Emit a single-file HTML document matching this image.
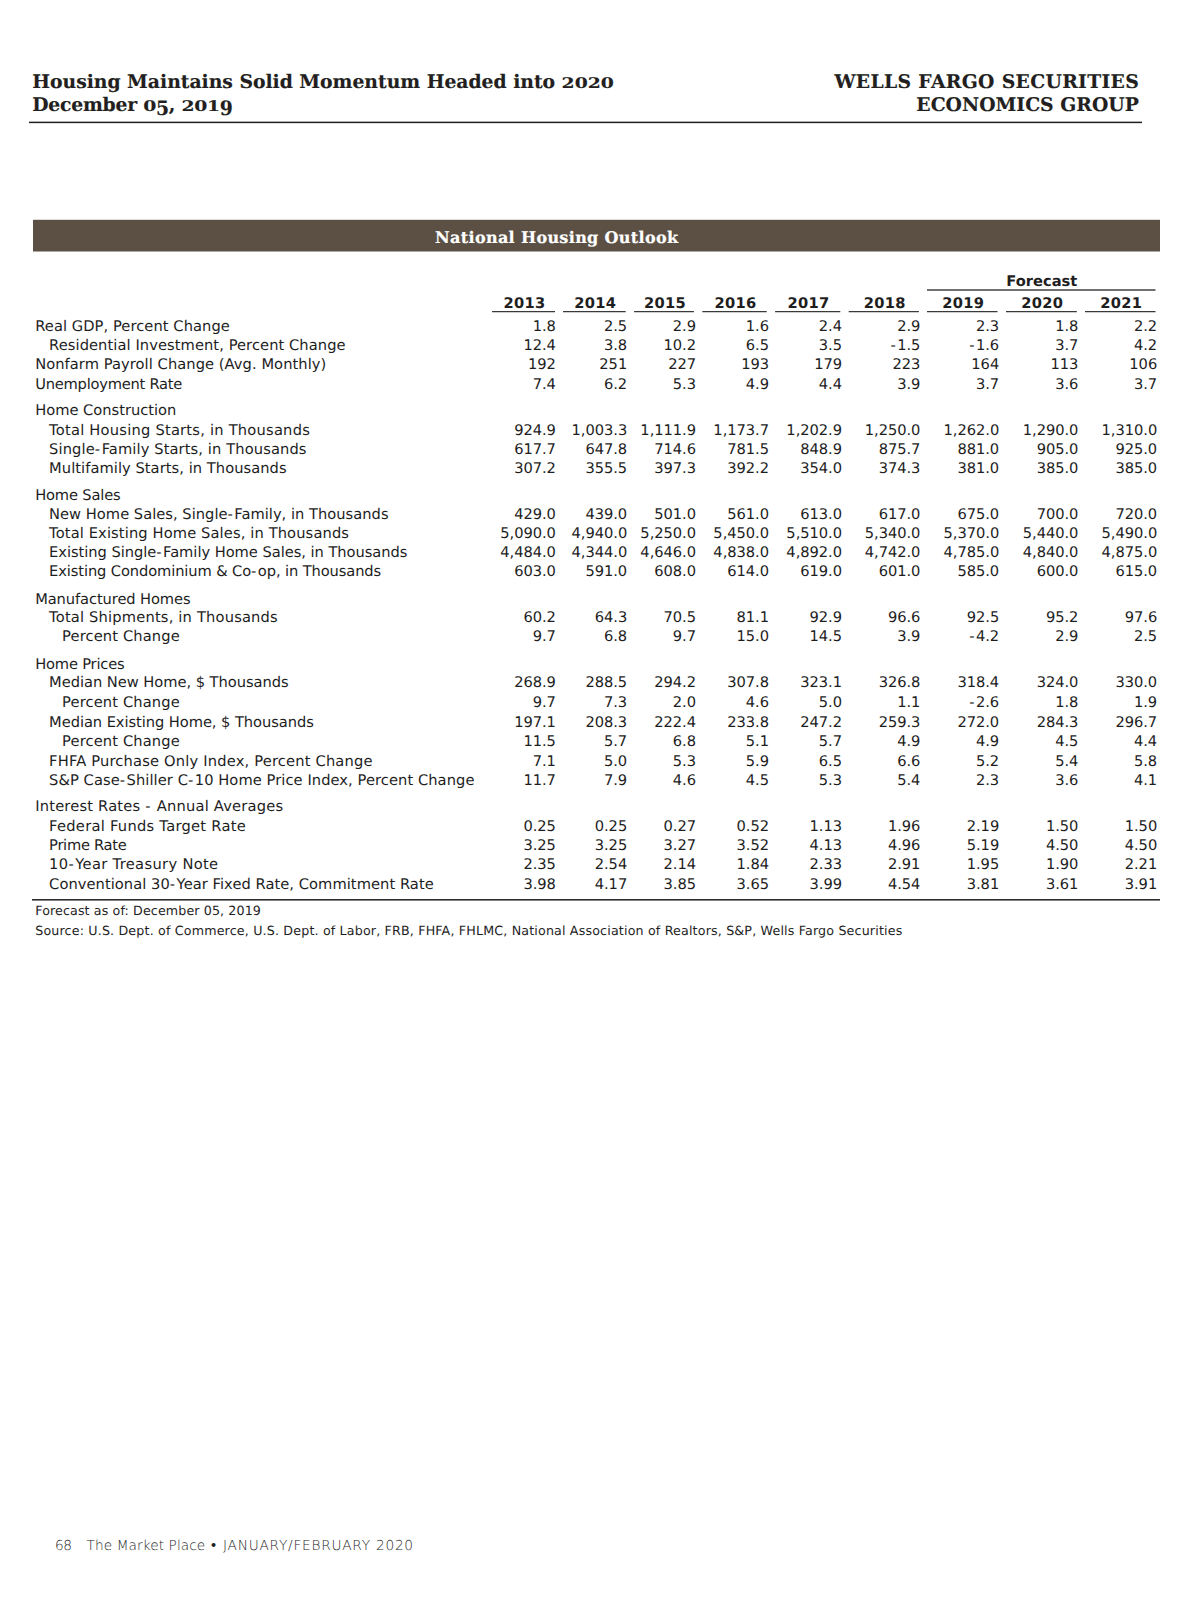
<!DOCTYPE html>
<html lang="en"><head><meta charset="utf-8"><title>National Housing Outlook</title>
<style>
html,body{margin:0;padding:0;background:#fff;}
body{text-rendering:geometricPrecision;width:1200px;height:1606px;position:relative;overflow:hidden;font-family:"DejaVu Sans","Liberation Sans",sans-serif;color:#1e1e1e;}
.abs{position:absolute;white-space:nowrap;}
.hd{position:absolute;white-space:nowrap;font-family:"DejaVu Serif","Liberation Serif",serif;font-weight:bold;font-size:18.8px;line-height:24px;height:24px;color:#231f20;-webkit-text-stroke:0.15px #231f20;}
.os,.osd{display:inline-block;line-height:24px;height:24px;vertical-align:baseline;transform-origin:0 18.71px;transform:scaleY(0.78);}
.osd{transform:translateY(4.2px) scaleY(1.06);}
.rule{position:absolute;background:#231f20;}
.banner{position:absolute;left:33px;top:219.8px;width:1127px;height:31.7px;}
.banner span{position:absolute;left:0;width:1047.5px;top:1.9px;-webkit-text-stroke:0.2px #fff;line-height:32px;text-align:center;color:#fff;font-family:"DejaVu Serif","Liberation Serif",serif;font-weight:bold;font-size:16.05px;white-space:nowrap;}
.r{position:absolute;left:0;width:1200px;height:20px;font-size:14.67px;line-height:20px;}
.r span{position:absolute;top:0;white-space:nowrap;}
.r .n{text-align:right;letter-spacing:-0.05px;}
.m{font-weight:normal;letter-spacing:1.5px;}
.yr{position:absolute;font-weight:bold;font-size:14.67px;line-height:20px;height:20px;text-align:center;letter-spacing:0.3px;padding-left:1.8px;box-sizing:border-box;white-space:nowrap;}
.ul{position:absolute;height:1.4px;background:#3a3a3a;}
.fn{position:absolute;left:35.2px;font-size:12.67px;line-height:16px;height:16px;white-space:nowrap;}
.ft{position:absolute;top:1536.26px;font-weight:200;font-size:13.7px;line-height:20px;height:20px;color:#262626;white-space:nowrap;}
</style></head><body>

<div class="hd" style="left:32.3px;transform-origin:0 0;top:70.29px;letter-spacing:-0.020px;">Housing Maintains Solid Momentum Headed into <span class="os">2020</span></div>
<div class="hd" style="left:32.3px;transform-origin:0 0;top:93.09px;letter-spacing:-0.244px;">December <span class="os">0</span><span class="osd">5</span>, <span class="os">201</span><span class="osd">9</span></div>
<div class="hd" style="right:60.87px;transform-origin:100% 0;top:70.29px;letter-spacing:0.326px;">WELLS FARGO SECURITIES</div>
<div class="hd" style="right:61.19px;transform-origin:100% 0;top:93.09px;letter-spacing:0.014px;">ECONOMICS GROUP</div>
<svg width="1200" height="1606" viewBox="0 0 1200 1606" style="position:absolute;left:0;top:0;"><rect x="29" y="121.65" width="1113" height="1.5" fill="#231f20"/><rect x="33" y="219.8" width="1127" height="31.7" fill="#5c5044"/><rect x="927" y="289.35" width="228.5" height="1.3" fill="#262626"/><rect x="492.0" y="311.0" width="63.0" height="1.25" fill="#3a3a3a"/><rect x="563.0" y="311.0" width="62.7" height="1.25" fill="#3a3a3a"/><rect x="634.1" y="311.0" width="59.8" height="1.25" fill="#3a3a3a"/><rect x="702.3" y="311.0" width="64.4" height="1.25" fill="#3a3a3a"/><rect x="775.1" y="311.0" width="65.2" height="1.25" fill="#3a3a3a"/><rect x="848.7" y="311.0" width="70.2" height="1.25" fill="#3a3a3a"/><rect x="927" y="311.0" width="70.5" height="1.25" fill="#3a3a3a"/><rect x="1006" y="311.0" width="70.8" height="1.25" fill="#3a3a3a"/><rect x="1085" y="311.0" width="70.5" height="1.25" fill="#3a3a3a"/><rect x="32" y="899.0" width="1128" height="1.6" fill="#2e2e2e"/></svg>
<div class="banner"><span style="letter-spacing:0.324px;">National Housing Outlook</span></div>
<div class="yr" style="left:927px;width:228.5px;top:271.72px;letter-spacing:0;padding-left:1.2px;">Forecast</div>
<div class="yr" style="left:492.0px;width:63.0px;top:293.62px;">2013</div>
<div class="yr" style="left:563.0px;width:62.7px;top:293.62px;">2014</div>
<div class="yr" style="left:634.1px;width:59.8px;top:293.62px;">2015</div>
<div class="yr" style="left:702.3px;width:64.4px;top:293.62px;">2016</div>
<div class="yr" style="left:775.1px;width:65.2px;top:293.62px;">2017</div>
<div class="yr" style="left:848.7px;width:70.2px;top:293.62px;">2018</div>
<div class="yr" style="left:927px;width:70.5px;top:293.62px;">2019</div>
<div class="yr" style="left:1006px;width:70.8px;top:293.62px;">2020</div>
<div class="yr" style="left:1085px;width:70.5px;top:293.62px;">2021</div>
<div class="r" style="top:316.52px;"><span style="left:35.2px;letter-spacing:0.073px;">Real GDP, Percent Change</span><span class="n" style="right:644.15px;">1.8</span><span class="n" style="right:572.85px;">2.5</span><span class="n" style="right:504.05px;">2.9</span><span class="n" style="right:431.05px;">1.6</span><span class="n" style="right:358.05px;">2.4</span><span class="n" style="right:279.65px;">2.9</span><span class="n" style="right:200.85px;">2.3</span><span class="n" style="right:121.65px;">1.8</span><span class="n" style="right:42.85px;">2.2</span></div>
<div class="r" style="top:335.82px;"><span style="left:49.1px;letter-spacing:0.076px;">Residential Investment, Percent Change</span><span class="n" style="right:644.15px;">12.4</span><span class="n" style="right:572.85px;">3.8</span><span class="n" style="right:504.05px;">10.2</span><span class="n" style="right:431.05px;">6.5</span><span class="n" style="right:358.05px;">3.5</span><span class="n" style="right:279.65px;"><b class="m">-</b>1.5</span><span class="n" style="right:200.85px;"><b class="m">-</b>1.6</span><span class="n" style="right:121.65px;">3.7</span><span class="n" style="right:42.85px;">4.2</span></div>
<div class="r" style="top:355.02px;"><span style="left:35.2px;letter-spacing:0.065px;">Nonfarm Payroll Change (Avg. Monthly)</span><span class="n" style="right:644.15px;">192</span><span class="n" style="right:572.85px;">251</span><span class="n" style="right:504.05px;">227</span><span class="n" style="right:431.05px;">193</span><span class="n" style="right:358.05px;">179</span><span class="n" style="right:279.65px;">223</span><span class="n" style="right:200.85px;">164</span><span class="n" style="right:121.65px;">113</span><span class="n" style="right:42.85px;">106</span></div>
<div class="r" style="top:374.52px;"><span style="left:35.2px;letter-spacing:-0.233px;">Unemployment Rate</span><span class="n" style="right:644.15px;">7.4</span><span class="n" style="right:572.85px;">6.2</span><span class="n" style="right:504.05px;">5.3</span><span class="n" style="right:431.05px;">4.9</span><span class="n" style="right:358.05px;">4.4</span><span class="n" style="right:279.65px;">3.9</span><span class="n" style="right:200.85px;">3.7</span><span class="n" style="right:121.65px;">3.6</span><span class="n" style="right:42.85px;">3.7</span></div>
<div class="r" style="top:400.92px;"><span style="left:35.2px;letter-spacing:-0.010px;">Home Construction</span></div>
<div class="r" style="top:420.72px;"><span style="left:49.1px;letter-spacing:0.226px;">Total Housing Starts, in Thousands</span><span class="n" style="right:644.15px;">924.9</span><span class="n" style="right:572.85px;">1,003.3</span><span class="n" style="right:504.05px;">1,111.9</span><span class="n" style="right:431.05px;">1,173.7</span><span class="n" style="right:358.05px;">1,202.9</span><span class="n" style="right:279.65px;">1,250.0</span><span class="n" style="right:200.85px;">1,262.0</span><span class="n" style="right:121.65px;">1,290.0</span><span class="n" style="right:42.85px;">1,310.0</span></div>
<div class="r" style="top:439.72px;"><span style="left:49.1px;letter-spacing:0.111px;">Single<b class="m">-</b>Family Starts, in Thousands</span><span class="n" style="right:644.15px;">617.7</span><span class="n" style="right:572.85px;">647.8</span><span class="n" style="right:504.05px;">714.6</span><span class="n" style="right:431.05px;">781.5</span><span class="n" style="right:358.05px;">848.9</span><span class="n" style="right:279.65px;">875.7</span><span class="n" style="right:200.85px;">881.0</span><span class="n" style="right:121.65px;">905.0</span><span class="n" style="right:42.85px;">925.0</span></div>
<div class="r" style="top:459.12px;"><span style="left:49.1px;letter-spacing:0.053px;">Multifamily Starts, in Thousands</span><span class="n" style="right:644.15px;">307.2</span><span class="n" style="right:572.85px;">355.5</span><span class="n" style="right:504.05px;">397.3</span><span class="n" style="right:431.05px;">392.2</span><span class="n" style="right:358.05px;">354.0</span><span class="n" style="right:279.65px;">374.3</span><span class="n" style="right:200.85px;">381.0</span><span class="n" style="right:121.65px;">385.0</span><span class="n" style="right:42.85px;">385.0</span></div>
<div class="r" style="top:485.92px;"><span style="left:35.2px;letter-spacing:-0.165px;">Home Sales</span></div>
<div class="r" style="top:504.52px;"><span style="left:49.1px;letter-spacing:0.021px;">New Home Sales, Single<b class="m">-</b>Family, in Thousands</span><span class="n" style="right:644.15px;">429.0</span><span class="n" style="right:572.85px;">439.0</span><span class="n" style="right:504.05px;">501.0</span><span class="n" style="right:431.05px;">561.0</span><span class="n" style="right:358.05px;">613.0</span><span class="n" style="right:279.65px;">617.0</span><span class="n" style="right:200.85px;">675.0</span><span class="n" style="right:121.65px;">700.0</span><span class="n" style="right:42.85px;">720.0</span></div>
<div class="r" style="top:523.62px;"><span style="left:49.1px;letter-spacing:0.122px;">Total Existing Home Sales, in Thousands</span><span class="n" style="right:644.15px;">5,090.0</span><span class="n" style="right:572.85px;">4,940.0</span><span class="n" style="right:504.05px;">5,250.0</span><span class="n" style="right:431.05px;">5,450.0</span><span class="n" style="right:358.05px;">5,510.0</span><span class="n" style="right:279.65px;">5,340.0</span><span class="n" style="right:200.85px;">5,370.0</span><span class="n" style="right:121.65px;">5,440.0</span><span class="n" style="right:42.85px;">5,490.0</span></div>
<div class="r" style="top:543.12px;"><span style="left:49.1px;letter-spacing:-0.037px;">Existing Single<b class="m">-</b>Family Home Sales, in Thousands</span><span class="n" style="right:644.15px;">4,484.0</span><span class="n" style="right:572.85px;">4,344.0</span><span class="n" style="right:504.05px;">4,646.0</span><span class="n" style="right:431.05px;">4,838.0</span><span class="n" style="right:358.05px;">4,892.0</span><span class="n" style="right:279.65px;">4,742.0</span><span class="n" style="right:200.85px;">4,785.0</span><span class="n" style="right:121.65px;">4,840.0</span><span class="n" style="right:42.85px;">4,875.0</span></div>
<div class="r" style="top:562.42px;"><span style="left:49.1px;letter-spacing:-0.110px;">Existing Condominium &amp; Co<b class="m">-</b>op, in Thousands</span><span class="n" style="right:644.15px;">603.0</span><span class="n" style="right:572.85px;">591.0</span><span class="n" style="right:504.05px;">608.0</span><span class="n" style="right:431.05px;">614.0</span><span class="n" style="right:358.05px;">619.0</span><span class="n" style="right:279.65px;">601.0</span><span class="n" style="right:200.85px;">585.0</span><span class="n" style="right:121.65px;">600.0</span><span class="n" style="right:42.85px;">615.0</span></div>
<div class="r" style="top:589.72px;"><span style="left:35.2px;letter-spacing:-0.095px;">Manufactured Homes</span></div>
<div class="r" style="top:608.32px;"><span style="left:49.1px;letter-spacing:0.183px;">Total Shipments, in Thousands</span><span class="n" style="right:644.15px;">60.2</span><span class="n" style="right:572.85px;">64.3</span><span class="n" style="right:504.05px;">70.5</span><span class="n" style="right:431.05px;">81.1</span><span class="n" style="right:358.05px;">92.9</span><span class="n" style="right:279.65px;">96.6</span><span class="n" style="right:200.85px;">92.5</span><span class="n" style="right:121.65px;">95.2</span><span class="n" style="right:42.85px;">97.6</span></div>
<div class="r" style="top:627.32px;"><span style="left:62.1px;letter-spacing:0.133px;">Percent Change</span><span class="n" style="right:644.15px;">9.7</span><span class="n" style="right:572.85px;">6.8</span><span class="n" style="right:504.05px;">9.7</span><span class="n" style="right:431.05px;">15.0</span><span class="n" style="right:358.05px;">14.5</span><span class="n" style="right:279.65px;">3.9</span><span class="n" style="right:200.85px;"><b class="m">-</b>4.2</span><span class="n" style="right:121.65px;">2.9</span><span class="n" style="right:42.85px;">2.5</span></div>
<div class="r" style="top:654.82px;"><span style="left:35.2px;letter-spacing:-0.187px;">Home Prices</span></div>
<div class="r" style="top:673.42px;"><span style="left:49.1px;letter-spacing:-0.038px;">Median New Home, $ Thousands</span><span class="n" style="right:644.15px;">268.9</span><span class="n" style="right:572.85px;">288.5</span><span class="n" style="right:504.05px;">294.2</span><span class="n" style="right:431.05px;">307.8</span><span class="n" style="right:358.05px;">323.1</span><span class="n" style="right:279.65px;">326.8</span><span class="n" style="right:200.85px;">318.4</span><span class="n" style="right:121.65px;">324.0</span><span class="n" style="right:42.85px;">330.0</span></div>
<div class="r" style="top:692.62px;"><span style="left:62.1px;letter-spacing:0.133px;">Percent Change</span><span class="n" style="right:644.15px;">9.7</span><span class="n" style="right:572.85px;">7.3</span><span class="n" style="right:504.05px;">2.0</span><span class="n" style="right:431.05px;">4.6</span><span class="n" style="right:358.05px;">5.0</span><span class="n" style="right:279.65px;">1.1</span><span class="n" style="right:200.85px;"><b class="m">-</b>2.6</span><span class="n" style="right:121.65px;">1.8</span><span class="n" style="right:42.85px;">1.9</span></div>
<div class="r" style="top:712.62px;"><span style="left:49.1px;letter-spacing:-0.059px;">Median Existing Home, $ Thousands</span><span class="n" style="right:644.15px;">197.1</span><span class="n" style="right:572.85px;">208.3</span><span class="n" style="right:504.05px;">222.4</span><span class="n" style="right:431.05px;">233.8</span><span class="n" style="right:358.05px;">247.2</span><span class="n" style="right:279.65px;">259.3</span><span class="n" style="right:200.85px;">272.0</span><span class="n" style="right:121.65px;">284.3</span><span class="n" style="right:42.85px;">296.7</span></div>
<div class="r" style="top:731.67px;"><span style="left:62.1px;letter-spacing:0.133px;">Percent Change</span><span class="n" style="right:644.15px;">11.5</span><span class="n" style="right:572.85px;">5.7</span><span class="n" style="right:504.05px;">6.8</span><span class="n" style="right:431.05px;">5.1</span><span class="n" style="right:358.05px;">5.7</span><span class="n" style="right:279.65px;">4.9</span><span class="n" style="right:200.85px;">4.9</span><span class="n" style="right:121.65px;">4.5</span><span class="n" style="right:42.85px;">4.4</span></div>
<div class="r" style="top:751.67px;"><span style="left:49.1px;letter-spacing:0.184px;">FHFA Purchase Only Index, Percent Change</span><span class="n" style="right:644.15px;">7.1</span><span class="n" style="right:572.85px;">5.0</span><span class="n" style="right:504.05px;">5.3</span><span class="n" style="right:431.05px;">5.9</span><span class="n" style="right:358.05px;">6.5</span><span class="n" style="right:279.65px;">6.6</span><span class="n" style="right:200.85px;">5.2</span><span class="n" style="right:121.65px;">5.4</span><span class="n" style="right:42.85px;">5.8</span></div>
<div class="r" style="top:770.72px;"><span style="left:49.1px;letter-spacing:0.071px;">S&amp;P Case<b class="m">-</b>Shiller C<b class="m">-</b>10 Home Price Index, Percent Change</span><span class="n" style="right:644.15px;">11.7</span><span class="n" style="right:572.85px;">7.9</span><span class="n" style="right:504.05px;">4.6</span><span class="n" style="right:431.05px;">4.5</span><span class="n" style="right:358.05px;">5.3</span><span class="n" style="right:279.65px;">5.4</span><span class="n" style="right:200.85px;">2.3</span><span class="n" style="right:121.65px;">3.6</span><span class="n" style="right:42.85px;">4.1</span></div>
<div class="r" style="top:796.92px;"><span style="left:35.2px;letter-spacing:0.199px;">Interest Rates <b class="m">-</b> Annual Averages</span></div>
<div class="r" style="top:816.62px;"><span style="left:49.1px;letter-spacing:0.269px;">Federal Funds Target Rate</span><span class="n" style="right:644.15px;">0.25</span><span class="n" style="right:572.85px;">0.25</span><span class="n" style="right:504.05px;">0.27</span><span class="n" style="right:431.05px;">0.52</span><span class="n" style="right:358.05px;">1.13</span><span class="n" style="right:279.65px;">1.96</span><span class="n" style="right:200.85px;">2.19</span><span class="n" style="right:121.65px;">1.50</span><span class="n" style="right:42.85px;">1.50</span></div>
<div class="r" style="top:835.52px;"><span style="left:49.1px;letter-spacing:-0.293px;">Prime Rate</span><span class="n" style="right:644.15px;">3.25</span><span class="n" style="right:572.85px;">3.25</span><span class="n" style="right:504.05px;">3.27</span><span class="n" style="right:431.05px;">3.52</span><span class="n" style="right:358.05px;">4.13</span><span class="n" style="right:279.65px;">4.96</span><span class="n" style="right:200.85px;">5.19</span><span class="n" style="right:121.65px;">4.50</span><span class="n" style="right:42.85px;">4.50</span></div>
<div class="r" style="top:855.42px;"><span style="left:49.1px;letter-spacing:0.337px;">10<b class="m">-</b>Year Treasury Note</span><span class="n" style="right:644.15px;">2.35</span><span class="n" style="right:572.85px;">2.54</span><span class="n" style="right:504.05px;">2.14</span><span class="n" style="right:431.05px;">1.84</span><span class="n" style="right:358.05px;">2.33</span><span class="n" style="right:279.65px;">2.91</span><span class="n" style="right:200.85px;">1.95</span><span class="n" style="right:121.65px;">1.90</span><span class="n" style="right:42.85px;">2.21</span></div>
<div class="r" style="top:874.52px;"><span style="left:49.1px;letter-spacing:0.054px;">Conventional 30<b class="m">-</b>Year Fixed Rate, Commitment Rate</span><span class="n" style="right:644.15px;">3.98</span><span class="n" style="right:572.85px;">4.17</span><span class="n" style="right:504.05px;">3.85</span><span class="n" style="right:431.05px;">3.65</span><span class="n" style="right:358.05px;">3.99</span><span class="n" style="right:279.65px;">4.54</span><span class="n" style="right:200.85px;">3.81</span><span class="n" style="right:121.65px;">3.61</span><span class="n" style="right:42.85px;">3.91</span></div>
<div class="fn" style="top:903.42px;letter-spacing:0.117px;">Forecast as of: December 05, 2019</div>
<div class="fn" style="top:923.42px;letter-spacing:0.165px;">Source: U.S. Dept. of Commerce, U.S. Dept. of Labor, FRB, FHFA, FHLMC, National Association of Realtors, S&amp;P, Wells Fargo Securities</div>
<div class="ft" style="left:55.0px;letter-spacing:-0.516px;">68</div>
<div class="ft" style="left:86.6px;letter-spacing:0.071px;">The Market Place</div>
<div class="ft" style="left:223.0px;letter-spacing:0.757px;">JANUARY/FEBRUARY 2020</div>
<div class="ft" style="left:209.5px;color:#222;font-weight:normal;">•</div>
</body></html>
